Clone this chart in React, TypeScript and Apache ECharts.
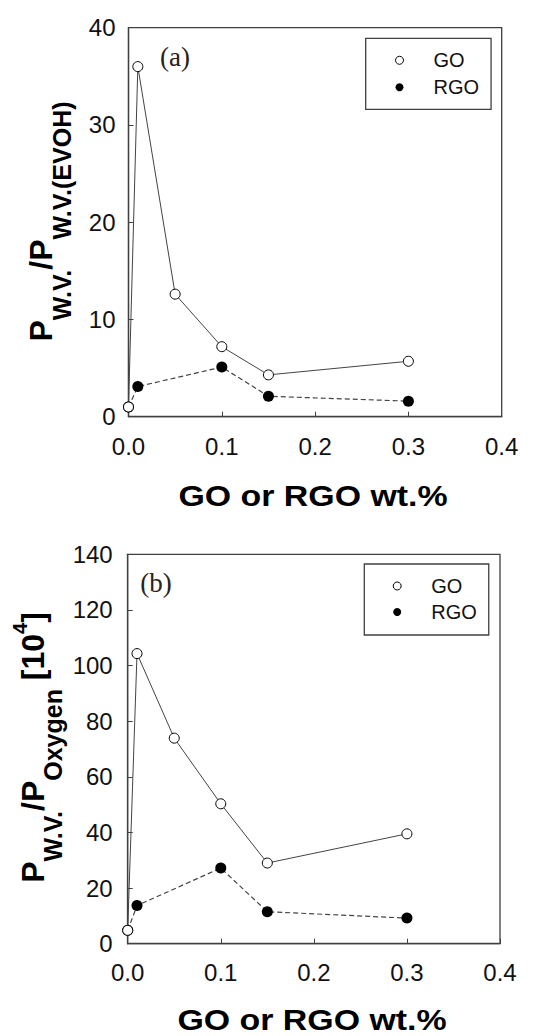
import React, { useEffect, useRef } from "react";
import * as echarts from "echarts";

// ---- data ----
const xGO = [0, 0.01, 0.05, 0.1, 0.15, 0.3];
const xRGO = [0, 0.01, 0.1, 0.15, 0.3];
const goA = [1.0, 36.0, 12.6, 7.2, 4.3, 5.7];
const rgoA = [1.0, 3.1, 5.1, 2.1, 1.6];
const goB = [4.8, 104.3, 73.9, 50.3, 29.0, 39.5];
const rgoB = [4.8, 13.7, 27.2, 11.5, 9.2];
const seriesNames = ["GO", "RGO"];
const panelLabels = ["(a)", "(b)"];
const xTitle = "GO or RGO wt.%";

const FONT = "'Liberation Sans', Arial, sans-serif";
const AX = "#404040";

function pairs(xs: number[], ys: number[]) {
  return xs.map((x, i) => [x, ys[i]]);
}

function tok(size: number, padTop: number) {
  return {
    fontSize: size,
    fontWeight: "bold",
    fontFamily: FONT,
    height: size,
    padding: [padTop, 0, 0, 0],
    verticalAlign: "top",
    fill: "#000",
  };
}

export default function App() {
  const ref = useRef<HTMLDivElement>(null);
  useEffect(() => {
    if (!ref.current) return;
    const chart = echarts.init(ref.current, null, { renderer: "svg" });

    const grids = [
      { left: 128.5, top: 27.7, width: 373.2, height: 389 },
      { left: 127.7, top: 554.3, width: 372.3, height: 389.4 },
    ];
    const yMax = [40, 140];
    const yInt = [10, 20];
    const xMargin = [18, 17];
    const yMargin = [13, 15];

    const xAxis = grids.map((_, i) => ({
      type: "value",
      gridIndex: i,
      min: 0,
      max: 0.4,
      interval: 0.1,
      axisLine: { show: true, lineStyle: { color: AX, width: 1.3 } },
      axisTick: { show: true, inside: true, length: 5, lineStyle: { color: AX, width: 1 } },
      splitLine: { show: false },
      axisLabel: {
        formatter: (v: number) => v.toFixed(1),
        fontSize: 24,
        fontFamily: FONT,
        color: "#111",
        margin: xMargin[i],
      },
    }));
    const yAxis = grids.map((_, i) => ({
      type: "value",
      gridIndex: i,
      min: 0,
      max: yMax[i],
      interval: yInt[i],
      axisLine: { show: true, lineStyle: { color: AX, width: 1.3 } },
      axisTick: { show: true, inside: true, length: 5, lineStyle: { color: AX, width: 1 } },
      splitLine: { show: false },
      axisLabel: {
        fontSize: 24,
        fontFamily: FONT,
        color: "#111",
        margin: yMargin[i],
      },
    }));

    const goStyle = { color: "#ffffff", borderColor: "#000000", borderWidth: 1 };
    const rgoStyle = { color: "#000000", borderColor: "#000000", borderWidth: 0 };

    const mk = (gi: number, go: number[], rgo: number[]) => [
      {
        name: seriesNames[1],
        type: "line",
        xAxisIndex: gi,
        yAxisIndex: gi,
        data: pairs(xRGO, rgo),
        symbol: "circle",
        symbolSize: 11,
        itemStyle: rgoStyle,
        lineStyle: { color: "#444", width: 1.2, type: [5, 3] },
        z: 2,
      },
      {
        name: seriesNames[0],
        type: "line",
        xAxisIndex: gi,
        yAxisIndex: gi,
        data: pairs(xGO, go),
        symbol: "circle",
        symbolSize: 10,
        itemStyle: goStyle,
        lineStyle: { color: "#444", width: 1 },
        z: 3,
      },
    ];

    const legendBase = {
      orient: "vertical",
      icon: "circle",
      itemWidth: 8,
      itemHeight: 8,
      borderColor: AX,
      borderWidth: 1.3,
      selectedMode: false,
      textStyle: {
        fontSize: 20,
        fontFamily: FONT,
        color: "#111",
        lineHeight: 20,
        padding: [0, 0, 0, 25],
      },
      data: [
        { name: seriesNames[0], itemStyle: goStyle },
        { name: seriesNames[1], itemStyle: rgoStyle },
      ],
    };

    const titleA = {
      type: "text",
      x: 25.3,
      y: 221.5,
      rotation: Math.PI / 2,
      style: {
        text: "{p|P}{s|W.V.}{p|/P}{s|W.V.(EVOH)}",
        align: "center",
        verticalAlign: "top",
        fill: "#000",
        rich: {
          p: tok(32, 0),
          s: tok(25, 24.2),
        },
      },
    };
    const titleB = {
      type: "text",
      x: 8,
      y: 747.5,
      rotation: Math.PI / 2,
      style: {
        text: "{p|P}{s|W.V.}{p|/P}{s|Oxygen}{p| [10}{u|4}{p|]}",
        align: "center",
        verticalAlign: "top",
        fill: "#000",
        rich: {
          p: tok(32, 8.8),
          s: tok(25, 32.7),
          u: tok(20, 2.1),
        },
      },
    };
    const xTitleEl = (cx: number, cy: number) => ({
      type: "text",
      x: cx,
      y: cy,
      scaleX: 1.13,
      style: {
        text: xTitle,
        font: `bold 30px ${FONT}`,
        align: "center",
        verticalAlign: "middle",
        fill: "#000",
      },
    });
    const panelLabel = (t: string, cx: number, cy: number) => ({
      type: "text",
      x: cx,
      y: cy,
      style: {
        text: t,
        font: "27px 'Liberation Serif', 'Times New Roman', serif",
        align: "center",
        verticalAlign: "middle",
        fill: "#2a2218",
      },
    });

    chart.setOption({
      animation: false,
      backgroundColor: "#ffffff",
      grid: grids.map((g) => ({ ...g, show: true, borderColor: AX, borderWidth: 1.3, backgroundColor: "transparent" })),
      xAxis,
      yAxis,
      legend: [
        { ...legendBase, left: 365.7, top: 38.3, itemGap: 7, padding: [12, 12, 12, 29.3] },
        { ...legendBase, left: 364.3, top: 564, itemGap: 6, padding: [12, 12, 13, 28.4] },
      ],
      series: [...mk(0, goA, rgoA), ...mk(1, goB, rgoB)],
      graphic: [
        titleA,
        titleB,
        xTitleEl(313, 496),
        xTitleEl(312, 1019.5),
        panelLabel(panelLabels[0], 175, 56.7),
        panelLabel(panelLabels[1], 156, 583.3),
      ],
    });
    return () => chart.dispose();
  }, []);
  return (
    <div
      ref={ref}
      style={{ position: "absolute", left: 0, top: 0, width: 546, height: 1036 }}
    />
  );
}
